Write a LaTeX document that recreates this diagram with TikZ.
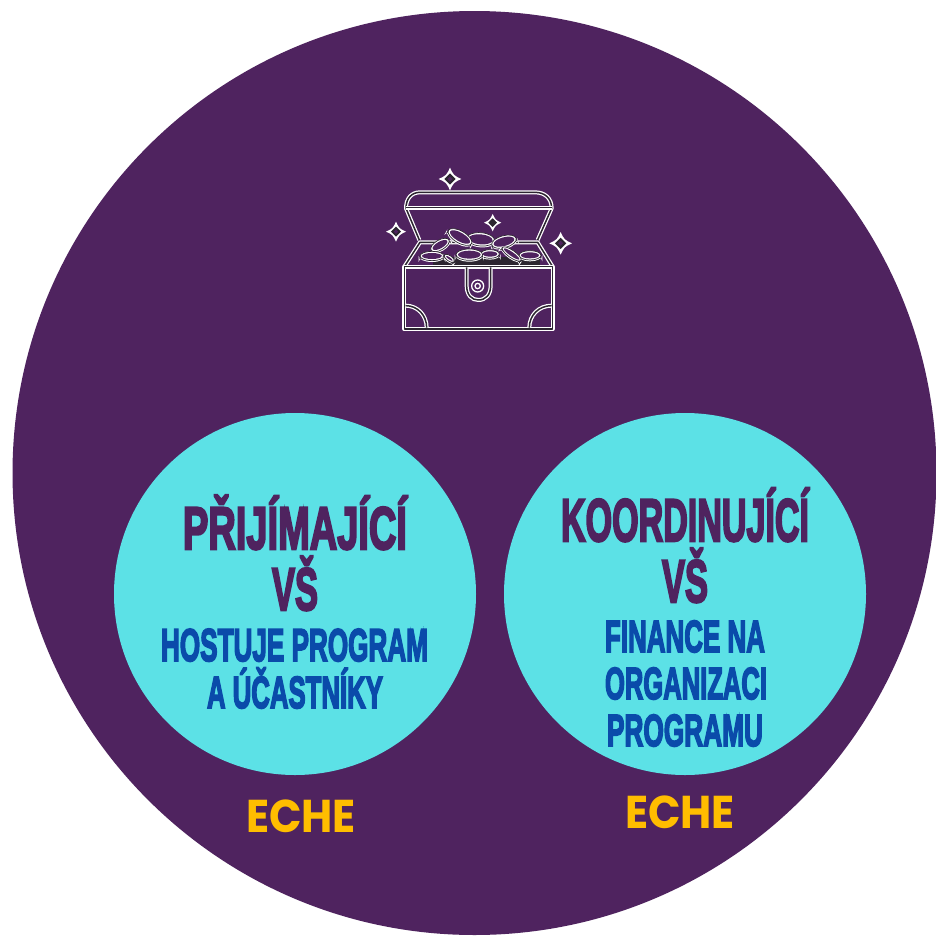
\documentclass[tikz,border=0pt]{standalone}
\usepackage{fontspec}
\usepackage{graphicx}
\setmainfont{Liberation Sans}
\newfontfamily\heavy[UprightFont={* Bold},FakeBold=4.2]{Liberation Sans}
\newfontfamily\eche[UprightFont={* Bold}]{Poppins}
\definecolor{plum}{HTML}{4F235F}
\definecolor{teal1}{HTML}{5CE1E6}
\definecolor{blue1}{HTML}{0A4BAA}
\definecolor{gold1}{HTML}{FFBD00}
\definecolor{core}{HTML}{2C2530}
\tikzset{
  big/.style={circle,fill=plum,inner sep=0pt,minimum size=924pt},
  disc/.style={circle,fill=teal1,inner sep=0pt,minimum size=362pt},
  lbl/.style={anchor=base,inner sep=0pt,outer sep=0pt},
  chestline/.style={draw=white,double=core,line width=1.25pt,double distance=1.5pt,line join=round},
}
% width, font size, text
\newcommand{\fitline}[3]{\resizebox{#1pt}{\height}{\heavy\fontsize{#2}{#2}\selectfont #3}}
\newcommand{\echetext}[1]{\resizebox{#1pt}{\height}{\eche\fontsize{46}{46}\selectfont ECHE}}
% coin: x y rx ry angle
\newcommand{\coin}[5]{%
  \begin{scope}[shift={(#1,#2)},rotate=#5]
    \fill[white] (-#3-4,0) -- (-#3-4,18) arc[x radius=#3+4,y radius=#4+4,start angle=180,end angle=360] -- (#3+4,0)
      arc[x radius=#3+4,y radius=#4+4,start angle=0,end angle=180] -- cycle;
    \draw[core,line width=.7pt] (-#3-1,9) arc[x radius=#3+1,y radius=#4+1,start angle=180,end angle=360];
    \fill[white,draw=core,line width=.7pt] (0,0) ellipse[x radius=#3,y radius=#4];
    \fill[plum] (0,0) ellipse[x radius=#3-6,y radius=#4-5];
  \end{scope}}
% sparkle: x y r inner colour
\newcommand{\spark}[4]{%
  \fill[white] (#1,#2-#3) .. controls (#1+.32*#3,#2-.32*#3) .. (#1+#3,#2) .. controls (#1+.32*#3,#2+.32*#3) .. (#1,#2+#3)
     .. controls (#1-.32*#3,#2+.32*#3) .. (#1-#3,#2) .. controls (#1-.32*#3,#2-.32*#3) .. cycle;
  \fill[core] (#1,#2-.5*#3) -- (#1+.5*#3,#2) -- (#1,#2+.5*#3) -- (#1-.5*#3,#2) -- cycle;
  \fill[#4] (#1,#2-.22*#3) -- (#1+.22*#3,#2) -- (#1,#2+.22*#3) -- (#1-.22*#3,#2) -- cycle;}
\begin{document}
\begin{tikzpicture}[x=1pt,y=-1pt]
\useasboundingbox (0,0) rectangle (936,937);
\fill[white] (0,0) rectangle (936,937);
\node[big] (outer) at (474.5,473) {};
\node[disc] (left) at (295,594) {};
\node[disc] (right) at (685,594) {};

% treasure chest (coordinates taken from a 3x view)
\begin{scope}[shift={(370,155)},x=0.3333pt,y=-0.3333pt]
  \spark{240}{72}{34}{plum}
  \spark{78}{230}{30}{plum}
  \spark{572}{265}{34}{plum}
  \spark{368}{203}{26}{core}
  % lid
  \draw[chestline] (148,255) -- (108,160) .. controls (108,130) and (125,112) .. (150,112)
     -- (495,112) .. controls (525,112) and (545,130) .. (545,160) -- (503,255);
  \draw[chestline] (108,158) -- (545,158);
  \draw[chestline] (103,335) -- (150,262) -- (503,262) -- (548,335);
  % coins, back to front
  \fill[core] (190,305) -- (510,305) -- (510,332) -- (190,332) -- cycle;
  \coin{332}{253}{42}{20}{-5}
  \coin{402}{260}{38}{18}{15}
  \coin{270}{246}{40}{18}{-30}
  \coin{210}{270}{31}{15}{30}
  \coin{186}{303}{36}{14}{0}
  \coin{480}{301}{33}{14}{0}
  \coin{425}{297}{34}{11}{-35}
  \coin{360}{297}{28}{13}{0}
  \coin{238}{310}{18}{8}{-35}
  \coin{298}{299}{40}{17}{0}
  % body
  \draw[chestline,fill=plum] (103,335) rectangle (548,522);
  \draw[chestline] (290,337) -- (290,392) .. controls (290,420) and (305,435) .. (325,435)
     .. controls (347,435) and (362,420) .. (362,392) -- (362,337);
  \draw[white,line width=1.3pt,fill=plum] (323,393) circle[radius=18];
  \draw[white,line width=1.3pt] (323,393) circle[radius=8];
  \draw[chestline] (107,452) .. controls (142,452) and (170,480) .. (170,518);
  \draw[chestline] (478,518) .. controls (478,480) and (507,452) .. (545,452);
\end{scope}

% left circle text
\node[lbl,text=plum] (t1) at (295,549) {\fitline{224}{60}{PŘIJÍMAJÍCÍ}};
\node[lbl,text=plum] (t2) at (295,610) {\fitline{46}{60}{VŠ}};
\node[lbl,text=blue1] (t3) at (294.5,661) {\fitline{267}{46}{HOSTUJE PROGRAM}};
\node[lbl,text=blue1] (t4) at (295,708) {\fitline{176}{45}{A ÚČASTNÍKY}};
\node[lbl,text=gold1] (e1) at (301,832) {\echetext{110}};
% right circle text
\node[lbl,text=plum] (t5) at (685,541) {\fitline{248}{60}{KOORDINUJÍCÍ}};
\node[lbl,text=plum] (t6) at (685,602) {\fitline{46}{60}{VŠ}};
\node[lbl,text=blue1] (t7) at (685,652) {\fitline{160}{45}{FINANCE NA}};
\node[lbl,text=blue1] (t8) at (686,699) {\fitline{162}{45}{ORGANIZACI}};
\node[lbl,text=blue1] (t9) at (685,746) {\fitline{156}{45}{PROGRAMU}};
\node[lbl,text=gold1] (e2) at (680,828) {\echetext{110}};
\end{tikzpicture}
\end{document}
